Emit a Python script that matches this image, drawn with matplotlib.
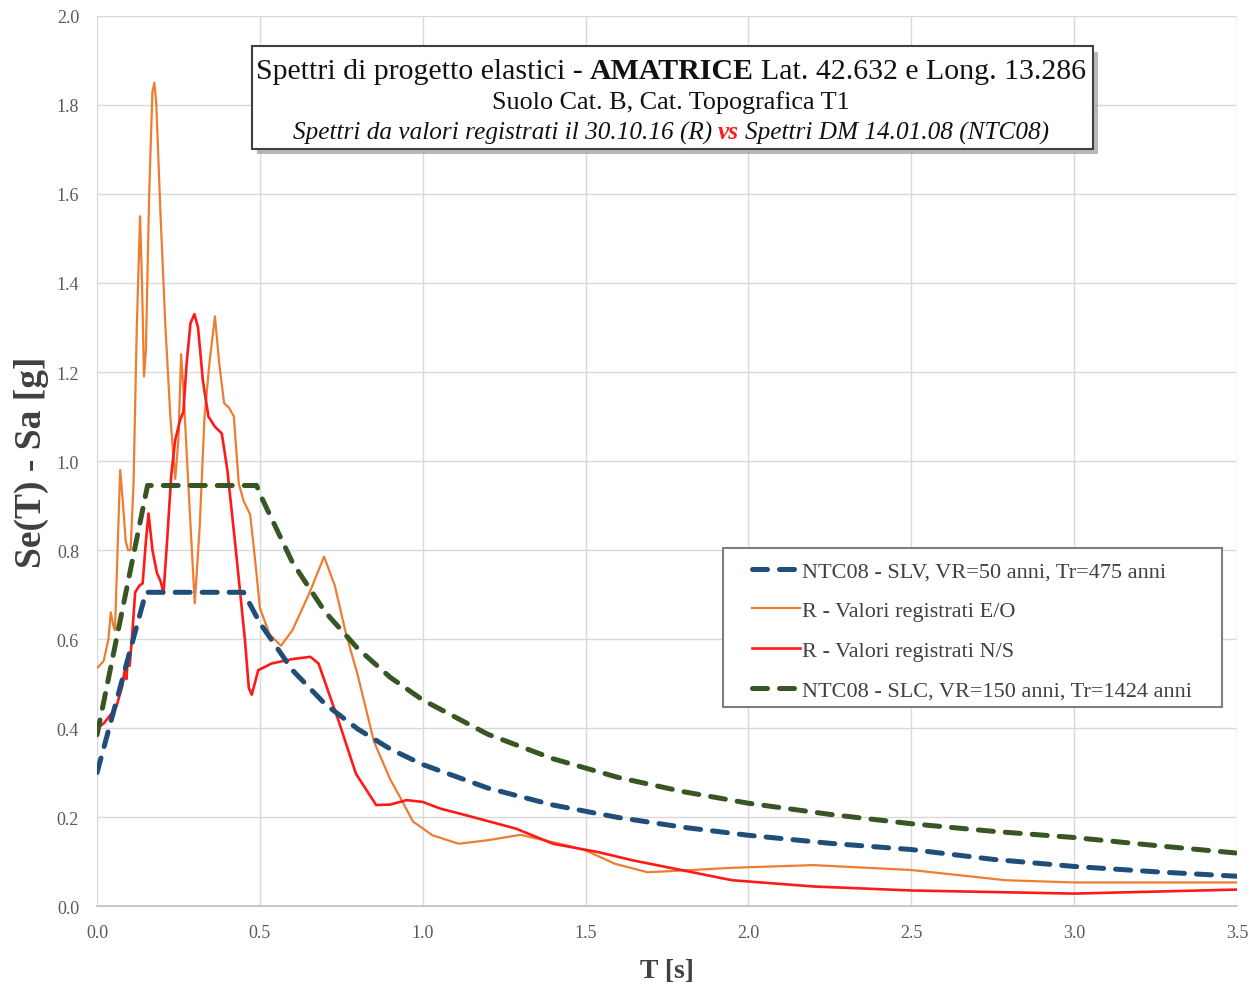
import matplotlib

matplotlib.use('Agg')
import matplotlib.pyplot as plt
from matplotlib.offsetbox import TextArea, HPacker, AnnotationBbox
from matplotlib.patches import Rectangle
from matplotlib.ticker import FormatStrFormatter, MultipleLocator

SERIF = 'Liberation Serif'

# ── data (T [s], Se(T)-Sa [g]) ───────────────────────────────────────────
T_SLV = [0.0, 0.15, 0.45, 0.5, 0.6, 0.7, 0.8, 0.9, 1.0, 1.2, 1.4, 1.6, 1.8,
         2.0, 2.25, 2.5, 2.75, 3.0, 3.25, 3.5]
SA_SLV = [0.30, 0.705, 0.705, 0.636, 0.530, 0.454, 0.398, 0.353, 0.318, 0.265,
          0.227, 0.199, 0.177, 0.159, 0.141, 0.127, 0.105, 0.089, 0.077, 0.067]

T_SLC = [0.0, 0.155, 0.49, 0.5, 0.6, 0.7, 0.8, 0.9, 1.0, 1.2, 1.4, 1.6, 1.8,
         2.0, 2.25, 2.5, 2.75, 3.0, 3.25, 3.5]
SA_SLC = [0.385, 0.945, 0.945, 0.926, 0.772, 0.661, 0.579, 0.514, 0.463, 0.386,
          0.331, 0.289, 0.257, 0.231, 0.206, 0.185, 0.168, 0.154, 0.136, 0.119]

T_EO = [0.000, 0.020, 0.035, 0.042, 0.050, 0.055, 0.063, 0.071, 0.080, 0.088,
        0.095, 0.103, 0.112, 0.122, 0.132, 0.138, 0.144, 0.150, 0.160, 0.170,
        0.176, 0.182, 0.195, 0.210, 0.225, 0.240, 0.250, 0.258, 0.266, 0.280,
        0.300, 0.315, 0.330, 0.345, 0.362, 0.375, 0.390, 0.405, 0.420, 0.435,
        0.450, 0.470, 0.485, 0.500, 0.530, 0.565, 0.600, 0.650, 0.697, 0.730,
        0.765, 0.800, 0.850, 0.900, 0.930, 0.970, 1.030, 1.110, 1.200, 1.300,
        1.360, 1.450, 1.500, 1.590, 1.690, 1.800, 1.950, 2.200, 2.500, 2.790,
        3.000, 3.500]
SA_EO = [0.535, 0.55, 0.60, 0.66, 0.63, 0.62, 0.80, 0.98, 0.90, 0.82,
         0.80, 0.80, 0.95, 1.30, 1.55, 1.40, 1.19, 1.25, 1.60, 1.83,
         1.85, 1.80, 1.55, 1.30, 1.10, 0.96, 1.05, 1.24, 1.15, 0.95,
         0.68, 0.85, 1.10, 1.22, 1.325, 1.22, 1.13, 1.12, 1.10, 0.95,
         0.91, 0.88, 0.78, 0.67, 0.61, 0.585, 0.62, 0.70, 0.785, 0.72,
         0.61, 0.52, 0.37, 0.285, 0.245, 0.19, 0.159, 0.140, 0.148, 0.160,
         0.150, 0.135, 0.125, 0.095, 0.076, 0.080, 0.086, 0.092, 0.081, 0.058,
         0.053, 0.053]

T_NS = [0.000, 0.020, 0.046, 0.060, 0.077, 0.085, 0.090, 0.095, 0.100, 0.107,
        0.117, 0.130, 0.140, 0.150, 0.158, 0.170, 0.184, 0.195, 0.204, 0.215,
        0.228, 0.240, 0.255, 0.265, 0.275, 0.287, 0.299, 0.310, 0.325, 0.342,
        0.362, 0.383, 0.400, 0.423, 0.440, 0.454, 0.466, 0.475, 0.495, 0.536,
        0.600, 0.655, 0.680, 0.743, 0.795, 0.857, 0.900, 0.950, 1.000, 1.054,
        1.133, 1.286, 1.400, 1.540, 1.643, 1.800, 1.950, 2.200, 2.500, 3.000,
        3.500]
SA_NS = [0.40, 0.41, 0.434, 0.45, 0.493, 0.53, 0.51, 0.56, 0.54, 0.60,
         0.705, 0.72, 0.725, 0.82, 0.882, 0.80, 0.748, 0.73, 0.703, 0.82,
         0.97, 1.047, 1.092, 1.11, 1.22, 1.31, 1.33, 1.30, 1.18, 1.10,
         1.077, 1.062, 0.98, 0.822, 0.70, 0.598, 0.49, 0.475, 0.53, 0.545,
         0.555, 0.56, 0.545, 0.413, 0.297, 0.227, 0.228, 0.238, 0.234, 0.219,
         0.204, 0.174, 0.140, 0.121, 0.103, 0.080, 0.058, 0.044, 0.035, 0.028,
         0.037]

LABELS = ['NTC08 - SLV, VR=50 anni, Tr=475 anni',
          'R - Valori registrati E/O',
          'R - Valori registrati N/S',
          'NTC08 - SLC, VR=150 anni, Tr=1424 anni']
COLORS = ['#1f4e79', '#ed7d31', '#ff1a1a', '#375623']

# ── figure ──────────────────────────────────────────────────────────────
fig = plt.figure(figsize=(12.54, 9.87), dpi=100)
ax = fig.add_axes([0.0774, 0.081, 0.909, 0.9018])

dash = dict(lw=3.6, dashes=(3.0, 2.4), dash_capstyle='round')
h_slv, = ax.plot(T_SLV, SA_SLV, color=COLORS[0], zorder=3, **dash)
h_eo, = ax.plot(T_EO, SA_EO, color=COLORS[1], lw=1.6, zorder=2,
                solid_joinstyle='round')
h_ns, = ax.plot(T_NS, SA_NS, color=COLORS[2], lw=1.9, zorder=2,
                solid_joinstyle='round')
h_slc, = ax.plot(T_SLC, SA_SLC, color=COLORS[3], zorder=3, **dash)

ax.set_xlim(0, 3.5)
ax.set_ylim(0, 2.0)
ax.xaxis.set_major_locator(MultipleLocator(0.5))
ax.yaxis.set_major_locator(MultipleLocator(0.2))
ax.xaxis.set_major_formatter(FormatStrFormatter('%.1f'))
ax.yaxis.set_major_formatter(FormatStrFormatter('%.1f'))
ax.tick_params(length=0, labelsize=13, labelcolor='#595959')
ax.tick_params(axis='x', pad=13)
ax.tick_params(axis='y', pad=13)
for lab in ax.get_xticklabels() + ax.get_yticklabels():
    lab.set_family(SERIF)
ax.grid(True, color='#d9d9d9', lw=1.0)
ax.set_axisbelow(True)
for sp in ('top', 'right', 'left'):
    ax.spines[sp].set_visible(False)
ax.spines['bottom'].set_color('#bfbfbf')
ax.spines['bottom'].set_linewidth(1.2)

ax.set_xlabel('T [s]', family=SERIF, fontsize=20, fontweight='bold',
              color='#404040', labelpad=12)
ax.set_ylabel('Se(T) - Sa [g]', family=SERIF, fontsize=27, fontweight='bold',
              color='#404040')
ax.yaxis.set_label_coords(-0.042, 0.5)

# legend: frame drawn by hand so its padding matches the original
ax.add_patch(Rectangle((0.5491, 0.2236), 0.4377, 0.1786, transform=ax.transAxes,
                       facecolor='white', edgecolor='#7f7f7f', lw=1.5,
                       zorder=5, clip_on=False))
leg = ax.legend([h_slv, h_eo, h_ns, h_slc], LABELS, loc='upper left',
                bbox_to_anchor=(0.5746, 0.3877), borderaxespad=0,
                borderpad=0, frameon=False, handlelength=2.16,
                handletextpad=0.1, labelspacing=0.86,
                prop=dict(family=SERIF, size=16))
leg.set_zorder(6)
for t in leg.get_texts():
    t.set_color('#404040')

# ── title box with shadow ───────────────────────────────────────────────
x0, x1, y0, y1 = 0.136, 0.874, 0.851, 0.966
ax.add_patch(Rectangle((x0 + 0.004, y0 - 0.006), x1 - x0, y1 - y0,
                       transform=ax.transAxes, color='#9a9a9a', alpha=0.7,
                       lw=0, zorder=6, clip_on=False))
ax.add_patch(Rectangle((x0, y0), x1 - x0, y1 - y0, transform=ax.transAxes,
                       facecolor='white', edgecolor='#3f3f3f', lw=1.5,
                       zorder=7, clip_on=False))


def title_line(parts, y, size):
    areas = []
    for txt, extra in parts:
        props = dict(family=SERIF, size=size, color='#111111')
        props.update(extra)
        areas.append(TextArea(txt, textprops=props))
    box = HPacker(children=areas, align='baseline', pad=0, sep=size * 0.25)
    ab = AnnotationBbox(box, (0.5035, y), xycoords='axes fraction',
                        frameon=False, box_alignment=(0.5, 0.5), zorder=8)
    ax.add_artist(ab)


title_line([('Spettri di progetto elastici -', {}),
            ('AMATRICE', dict(weight='bold')),
            ('Lat. 42.632 e Long. 13.286', {})], 0.9382, 21.5)
title_line([('Suolo Cat. B, Cat. Topografica T1', {})], 0.9034, 18.8)
title_line([('Spettri da valori registrati il 30.10.16 (R)', dict(style='italic')),
            ('vs', dict(style='italic', weight='bold', color='#ff1a1a')),
            ('Spettri DM 14.01.08 (NTC08)', dict(style='italic'))], 0.8697, 18.2)

fig.savefig('out.png', dpi=100)
